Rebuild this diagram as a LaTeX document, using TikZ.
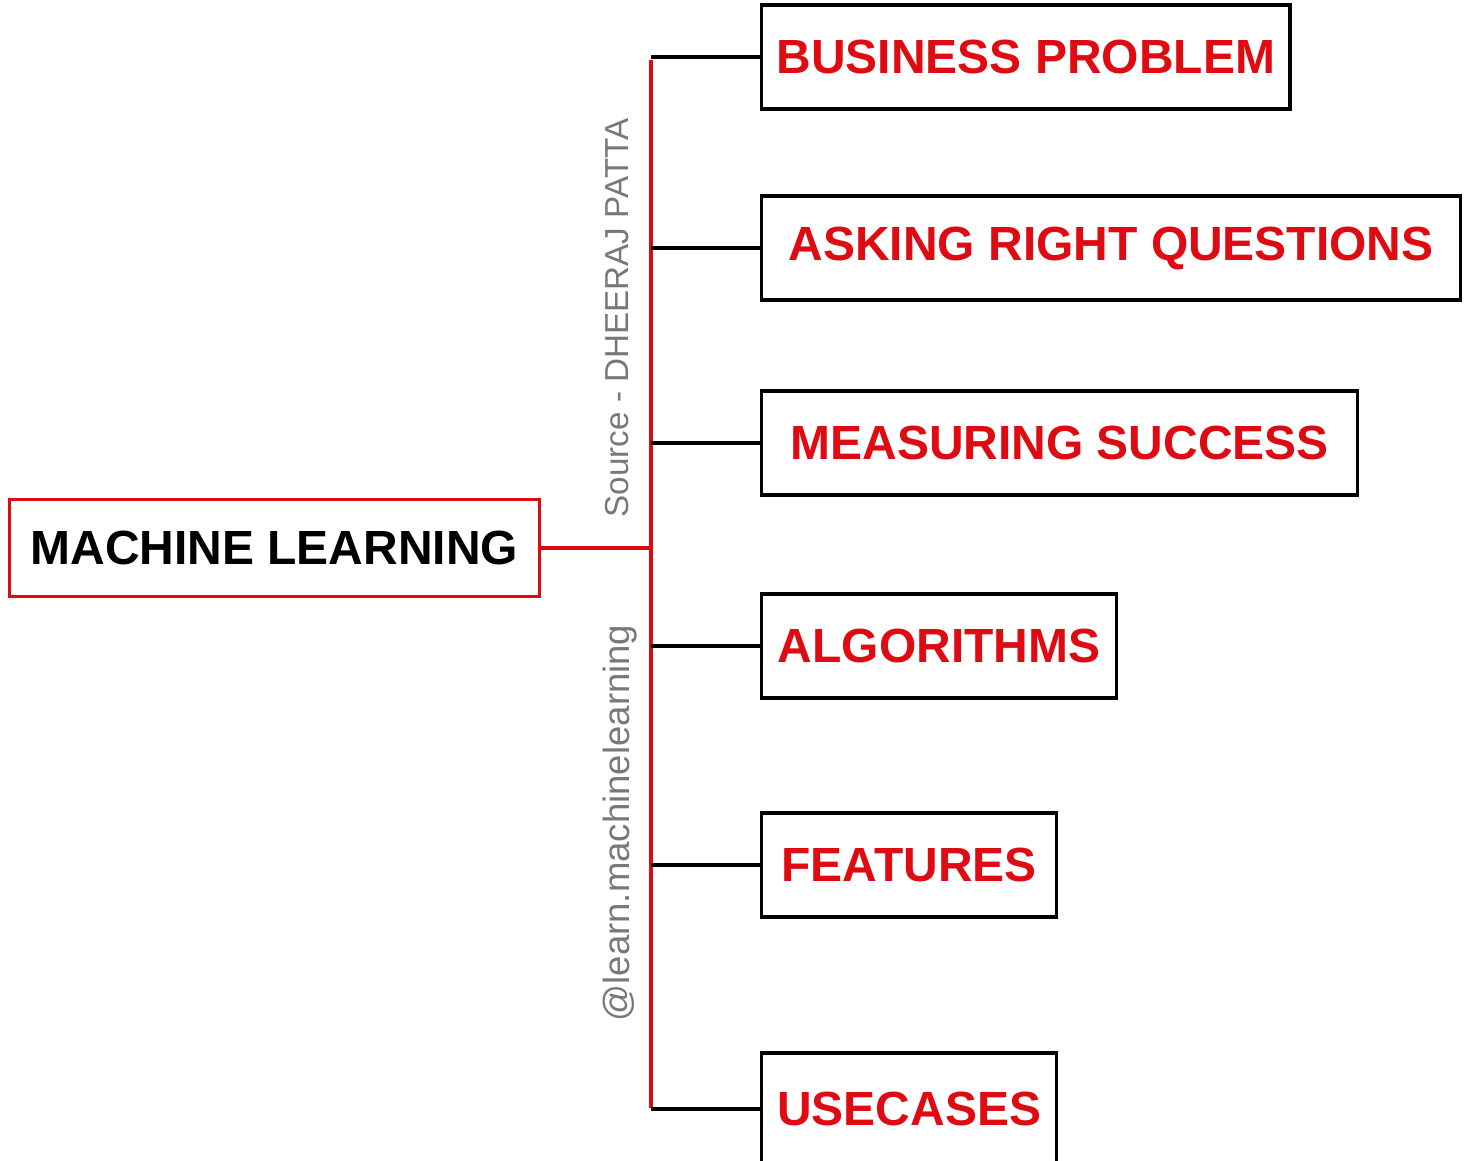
\documentclass[tikz,border=0pt]{standalone}
\usepackage{fontspec}
\setmainfont{Liberation Sans}
\definecolor{mlred}{RGB}{222,12,18}
\definecolor{credgray}{RGB}{120,120,120}
\begin{document}
\begin{tikzpicture}[x=0.02cm, y=0.02cm,
		topic/.style = {draw=black, line width=1.9pt, anchor=west, minimum height=2.08cm, inner xsep=0.3cm, text=mlred, font=\bfseries\fontsize{27.3}{32}\selectfont},
		root/.style = {draw=mlred, line width=1.5pt, anchor=west, minimum height=1.94cm, inner xsep=0.3cm, text=black, font=\bfseries\fontsize{27.3}{32}\selectfont},
		branch/.style = {draw=black, line width=2.6pt},
		trunk/.style = {draw=mlred, line width=2.4pt},
		credit/.style = {rotate=90, text=credgray}]
	\useasboundingbox (0,0) rectangle (1471,1160);
	\node[root, minimum width=10.6cm] (ml) at (8,612) {MACHINE LEARNING};
	\coordinate (top) at (651,1100);
	\coordinate (bot) at (651,52);
	\node[topic, minimum width=10.5cm] (bp) at (760,1103) {BUSINESS PROBLEM};
	\node[topic, minimum width=13.98cm] (arq) at (760,912) {ASKING RIGHT QUESTIONS};
	\node[topic, minimum width=11.92cm] (ms) at (760,717) {MEASURING SUCCESS};
	\node[topic, minimum width=7.1cm] (alg) at (760,514) {ALGORITHMS};
	\node[topic, minimum width=5.9cm] (feat) at (760,295) {FEATURES};
	\node[topic, minimum width=5.9cm, minimum height=2.24cm] (use) at (760,51) {USECASES};
	\node[credit, font=\fontsize{18.9}{22}\selectfont] (src) at (617,842) {Source - DHEERAJ PATTA};
	\node[credit, font=\fontsize{20.8}{24}\selectfont] (handle) at (620,337) {@learn.machinelearning};
	\draw[trunk] (top) -- (bot);
	\draw[trunk] (ml.east) -- (ml.east -| top);
	\foreach \t in {bp, arq, ms, alg, feat, use}
		\draw[branch] (\t.west) -- (\t.west -| top);
\end{tikzpicture}
\end{document}
